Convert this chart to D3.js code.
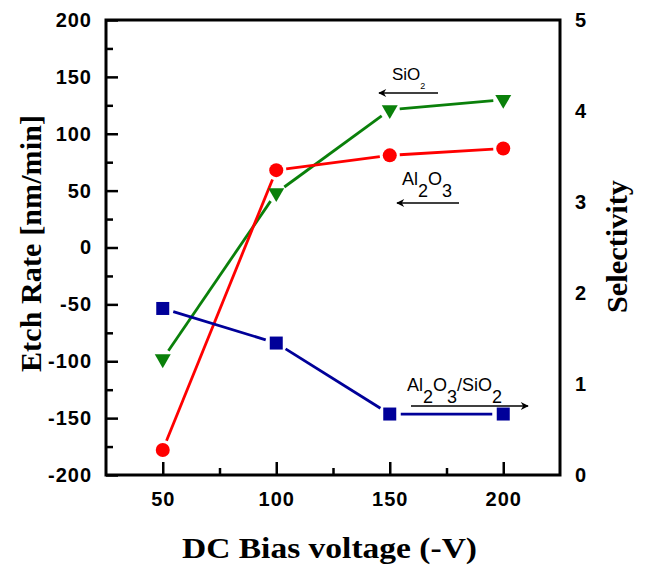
<!DOCTYPE html>
<html>
<head>
<meta charset="utf-8">
<script src="https://cdn.jsdelivr.net/npm/d3@7"></script>
<style>
  body { margin: 0; background: #fff; }
  .tick text { font-family: Arial, "Liberation Sans", sans-serif; font-weight: bold; font-size: 20px; letter-spacing: 1px; }
</style>
</head>
<body>
<div id="chart-area"></div>
<script>
var width = 646;
var height = 569;

// data
var bias = [50, 100, 150, 200];
var al2o3 = [-178, 68, 81, 87];
var sio2 = [-98, 48, 121, 130];
var selectivity = [1.83, 1.45, 0.67, 0.67];

var xTicks = [50, 100, 150, 200];
var xMinor = [75, 125, 175];
var yTicks = [-200, -150, -100, -50, 0, 50, 100, 150, 200];
var yMinor = [-175, -125, -75, -25, 25, 75, 125, 175];
var y2Ticks = [0, 1, 2, 3, 4, 5];

var plotL = 106, plotR = 560, plotT = 20, plotB = 475;

var svg = d3.select("#chart-area").append("svg")
    .attr("width", width)
    .attr("height", height);

var x = d3.scaleLinear().domain([25, 225]).range([plotL, plotR]);
var y = d3.scaleLinear().domain([-200, 200]).range([plotB, plotT]);
var y2 = d3.scaleLinear().domain([0, 5]).range([plotB, plotT]);

var plain = function(d) { return String(d); };

// minor ticks
svg.append("g")
    .attr("transform", "translate(0," + plotB + ")")
    .call(d3.axisBottom(x).tickValues(xMinor).tickSize(-7).tickFormat(""))
    .call(g => g.select(".domain").remove())
    .selectAll("line").attr("stroke-width", 2.5);

svg.append("g")
    .attr("transform", "translate(" + plotL + ",0)")
    .call(d3.axisLeft(y).tickValues(yMinor).tickSize(-7).tickFormat(""))
    .call(g => g.select(".domain").remove())
    .selectAll("line").attr("stroke-width", 2.5);

// major ticks
var xAxis = svg.append("g")
    .attr("transform", "translate(0," + plotB + ")")
    .call(d3.axisBottom(x).tickValues(xTicks).tickFormat(plain).tickSizeInner(-13).tickSizeOuter(0).tickPadding(17));
xAxis.select(".domain").remove();
xAxis.selectAll("line").attr("stroke-width", 2.5);

var yAxis = svg.append("g")
    .attr("transform", "translate(" + plotL + ",0)")
    .call(d3.axisLeft(y).tickValues(yTicks).tickFormat(plain).tickSizeInner(-12).tickSizeOuter(0).tickPadding(14));
yAxis.select(".domain").remove();
yAxis.selectAll("line").attr("stroke-width", 2.5);

var y2Axis = svg.append("g")
    .attr("transform", "translate(" + plotR + ",0)")
    .call(d3.axisRight(y2).tickValues(y2Ticks).tickFormat(plain).tickSize(0).tickPadding(15));
y2Axis.select(".domain").remove();

// frame
svg.append("rect")
    .attr("x", plotL).attr("y", plotT)
    .attr("width", plotR - plotL).attr("height", plotB - plotT)
    .attr("fill", "none")
    .attr("stroke", "black")
    .attr("stroke-width", 3);

// lines with gaps at markers
function drawLine(vals, scaleY, color, gap) {
    for (var i = 0; i < vals.length - 1; i++) {
        var x1 = x(bias[i]), y1 = scaleY(vals[i]);
        var x2 = x(bias[i + 1]), y2v = scaleY(vals[i + 1]);
        var dx = x2 - x1, dy = y2v - y1;
        var len = Math.sqrt(dx * dx + dy * dy);
        var ux = dx / len, uy = dy / len;
        svg.append("line")
            .attr("x1", x1 + ux * gap).attr("y1", y1 + uy * gap)
            .attr("x2", x2 - ux * gap).attr("y2", y2v - uy * gap)
            .attr("stroke", color)
            .attr("stroke-width", 2.8);
    }
}

var red = "#ff0000", green = "#0a800a", blue = "#000099";

drawLine(sio2, y, green, 10);
drawLine(al2o3, y, red, 10);
drawLine(selectivity, y2, blue, 11);

// markers
svg.selectAll(".sio2").data(sio2).enter()
    .append("path")
    .attr("class", "sio2")
    .attr("d", d3.symbol().type(d3.symbolTriangle).size(110))
    .attr("transform", function(d, i) { return "translate(" + x(bias[i]) + "," + y(d) + ") rotate(180)"; })
    .attr("fill", green);

svg.selectAll(".al2o3").data(al2o3).enter()
    .append("circle")
    .attr("class", "al2o3")
    .attr("cx", function(d, i) { return x(bias[i]); })
    .attr("cy", function(d) { return y(d); })
    .attr("r", 7)
    .attr("fill", red);

svg.selectAll(".sel").data(selectivity).enter()
    .append("rect")
    .attr("class", "sel")
    .attr("x", function(d, i) { return x(bias[i]) - 6.5; })
    .attr("y", function(d) { return y2(d) - 6.5; })
    .attr("width", 13)
    .attr("height", 13)
    .attr("fill", blue);

// annotations
svg.append("defs").append("marker")
    .attr("id", "arrow")
    .attr("viewBox", "0 0 10 10")
    .attr("refX", 9).attr("refY", 5)
    .attr("markerWidth", 13).attr("markerHeight", 8)
    .attr("markerUnits", "userSpaceOnUse")
    .attr("orient", "auto")
    .append("path")
    .attr("d", "M0,0 L10,5 L0,10 L3,5 Z")
    .attr("fill", "black");

function arrow(x1, y1, x2, y2v) {
    svg.append("line")
        .attr("x1", x1).attr("y1", y1).attr("x2", x2).attr("y2", y2v)
        .attr("stroke", "black").attr("stroke-width", 1.3)
        .attr("marker-end", "url(#arrow)");
}

var lab = "Arial, 'Liberation Sans', sans-serif";

var t1 = svg.append("text").attr("x", 392).attr("y", 80)
    .attr("font-family", lab).attr("font-size", 17);
t1.append("tspan").text("SiO");
t1.append("tspan").attr("dy", 9).attr("font-size", 9).text("2");
arrow(438, 93, 379, 93);

var t2 = svg.append("text").attr("x", 402).attr("y", 185)
    .attr("font-family", lab).attr("font-size", 18);
t2.append("tspan").text("Al");
t2.append("tspan").attr("dy", 12).text("2");
t2.append("tspan").attr("dy", -12).text("O");
t2.append("tspan").attr("dy", 12).text("3");
arrow(459, 203, 397, 203);

var t3 = svg.append("text").attr("x", 407).attr("y", 391)
    .attr("font-family", lab).attr("font-size", 18);
t3.append("tspan").text("Al");
t3.append("tspan").attr("dy", 12).text("2");
t3.append("tspan").attr("dy", -12).text("O");
t3.append("tspan").attr("dy", 12).text("3");
t3.append("tspan").attr("dy", -12).text("/SiO");
t3.append("tspan").attr("dy", 12).text("2");
arrow(411, 406, 528, 406);

// axis titles
var serif = "'Liberation Serif', 'Times New Roman', serif";

svg.append("text")
    .attr("x", 182).attr("y", 558)
    .attr("textLength", 295).attr("lengthAdjust", "spacingAndGlyphs")
    .attr("font-family", serif).attr("font-weight", "bold").attr("font-size", 30)
    .text("DC Bias voltage (-V)");

svg.append("text")
    .attr("transform", "translate(41,372) rotate(-90)")
    .attr("textLength", 257).attr("lengthAdjust", "spacing")
    .attr("font-family", serif).attr("font-weight", "bold").attr("font-size", 30)
    .text("Etch Rate [nm/min]");

svg.append("text")
    .attr("transform", "translate(627,313) rotate(-90)")
    .attr("textLength", 133).attr("lengthAdjust", "spacingAndGlyphs")
    .attr("font-family", serif).attr("font-weight", "bold").attr("font-size", 29)
    .text("Selectivity");
</script>
</body>
</html>
